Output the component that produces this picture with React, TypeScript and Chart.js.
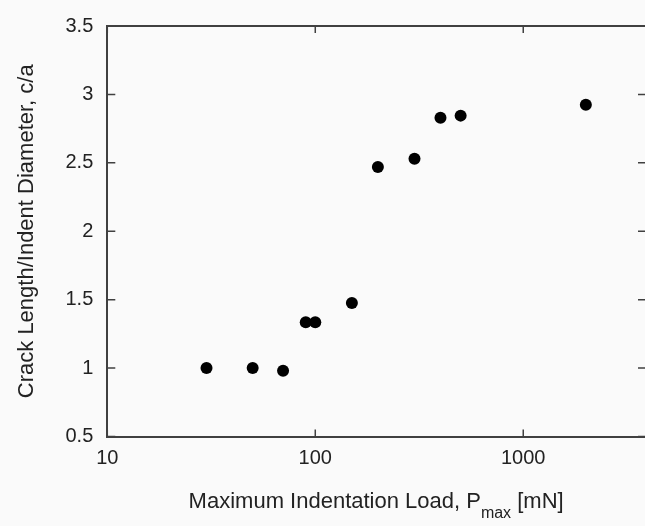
import React, { useEffect, useRef } from 'react';
import { Chart, registerables } from 'chart.js';

Chart.register(...registerables);

// Data
const loads = [30, 50, 70, 90, 100, 150, 200, 300, 400, 500, 2000];
const ratios = [1.0, 1.0, 0.98, 1.335, 1.335, 1.475, 2.47, 2.53, 2.83, 2.845, 2.925];
const xTickValues = [10, 100, 1000];
const yTickValues = [0.5, 1, 1.5, 2, 2.5, 3, 3.5];

const X_TITLE_MAIN = 'Maximum Indentation Load, P';
const X_TITLE_SUB = 'max';
const X_TITLE_TAIL = ' [mN]';
const Y_TITLE = 'Crack Length/Indent Diameter, c/a';

const FONT = '"Liberation Sans", Arial, Helvetica, sans-serif';
const TEXT_COLOR = '#222222';
const AXIS_COLOR = '#404040';
const BG = '#fafafa';

const W = 645;
const H = 526;

const framePlugin = {
  id: 'frameAndTitle',
  afterDraw(chart: any) {
    const { ctx, chartArea, scales } = chart;
    const { left, right, top, bottom } = chartArea;
    const xs = scales.x;
    const ys = scales.y;
    ctx.save();
    // top frame line
    ctx.strokeStyle = AXIS_COLOR;
    ctx.lineWidth = 2;
    ctx.beginPath();
    ctx.moveTo(left, top);
    ctx.lineTo(right, top);
    ctx.stroke();
    // inward ticks
    ctx.lineWidth = 1.5;
    ctx.beginPath();
    for (const v of xTickValues) {
      const px = xs.getPixelForValue(v);
      ctx.moveTo(px, bottom);
      ctx.lineTo(px, bottom - 7);
      ctx.moveTo(px, top);
      ctx.lineTo(px, top + 7);
    }
    for (const v of yTickValues) {
      const py = ys.getPixelForValue(v);
      ctx.moveTo(left, py);
      ctx.lineTo(left + 8, py);
      ctx.moveTo(right, py);
      ctx.lineTo(right - 7, py);
    }
    ctx.stroke();

    // x-axis title with subscript
    ctx.fillStyle = TEXT_COLOR;
    ctx.textAlign = 'left';
    ctx.textBaseline = 'alphabetic';
    const mainFont = `22px ${FONT}`;
    const subFont = `16px ${FONT}`;
    ctx.font = mainFont;
    const w1 = ctx.measureText(X_TITLE_MAIN).width;
    const w3 = ctx.measureText(X_TITLE_TAIL).width;
    ctx.font = subFont;
    const w2 = ctx.measureText(X_TITLE_SUB).width;
    const total = w1 + w2 + w3;
    const cx = (left + right) / 2;
    let x0 = cx - total / 2;
    const baseY = 508;
    ctx.font = mainFont;
    ctx.fillText(X_TITLE_MAIN, x0, baseY);
    x0 += w1;
    ctx.font = subFont;
    ctx.fillText(X_TITLE_SUB, x0, baseY + 9.5);
    x0 += w2;
    ctx.font = mainFont;
    ctx.fillText(X_TITLE_TAIL, x0, baseY);
    ctx.restore();
  },
};

export default function App() {
  const canvasRef = useRef<HTMLCanvasElement | null>(null);

  useEffect(() => {
    document.body.style.margin = '0';
    document.body.style.background = BG;
    const canvas = canvasRef.current;
    if (!canvas) return;
    const chart = new Chart(canvas, {
      type: 'scatter',
      data: {
        datasets: [
          {
            data: loads.map((x, i) => ({ x, y: ratios[i] })),
            backgroundColor: '#000000',
            borderColor: '#000000',
            borderWidth: 0,
            pointRadius: 6,
            pointHoverRadius: 6,
            clip: false,
          },
        ],
      },
      options: {
        animation: false,
        responsive: false,
        events: [],
        layout: { autoPadding: false, padding: { top: 22.5, right: 0, left: 0, bottom: 0 } },
        plugins: {
          legend: { display: false },
          tooltip: { enabled: false },
        },
        scales: {
          x: {
            type: 'logarithmic',
            position: 'bottom',
            min: 10,
            max: 3850,
            grid: { display: false, drawTicks: false },
            border: { display: true, color: AXIS_COLOR, width: 2 },
            afterBuildTicks: (scale: any) => {
              scale.ticks = xTickValues.map((v) => ({ value: v }));
            },
            ticks: {
              autoSkip: false,
              maxRotation: 0,
              minRotation: 0,
              padding: 10,
              color: TEXT_COLOR,
              font: { family: FONT, size: 20 },
              callback: (v: any) => String(v),
            },
            afterFit: (scale: any) => {
              scale.height = 89.5;
            },
          },
          y: {
            type: 'linear',
            min: 0.5,
            max: 3.5,
            grid: { display: false, drawTicks: false },
            border: { display: true, color: AXIS_COLOR, width: 2 },
            afterBuildTicks: (scale: any) => {
              scale.ticks = yTickValues.map((v) => ({ value: v }));
            },
            ticks: {
              padding: 14,
              color: TEXT_COLOR,
              font: { family: FONT, size: 20 },
              callback: (v: any) => String(v),
            },
            title: {
              display: true,
              text: Y_TITLE,
              color: TEXT_COLOR,
              font: { family: FONT, size: 22 },
              padding: { top: 14, bottom: 0 },
            },
            afterFit: (scale: any) => {
              scale.width = 107.3;
            },
          },
        },
      },
      plugins: [framePlugin],
    });
    return () => {
      chart.destroy();
    };
  }, []);

  return (
    <div style={{ position: 'relative', width: W, height: H, background: BG }}>
      <canvas ref={canvasRef} width={W} height={H} style={{ display: 'block' }} />
    </div>
  );
}
